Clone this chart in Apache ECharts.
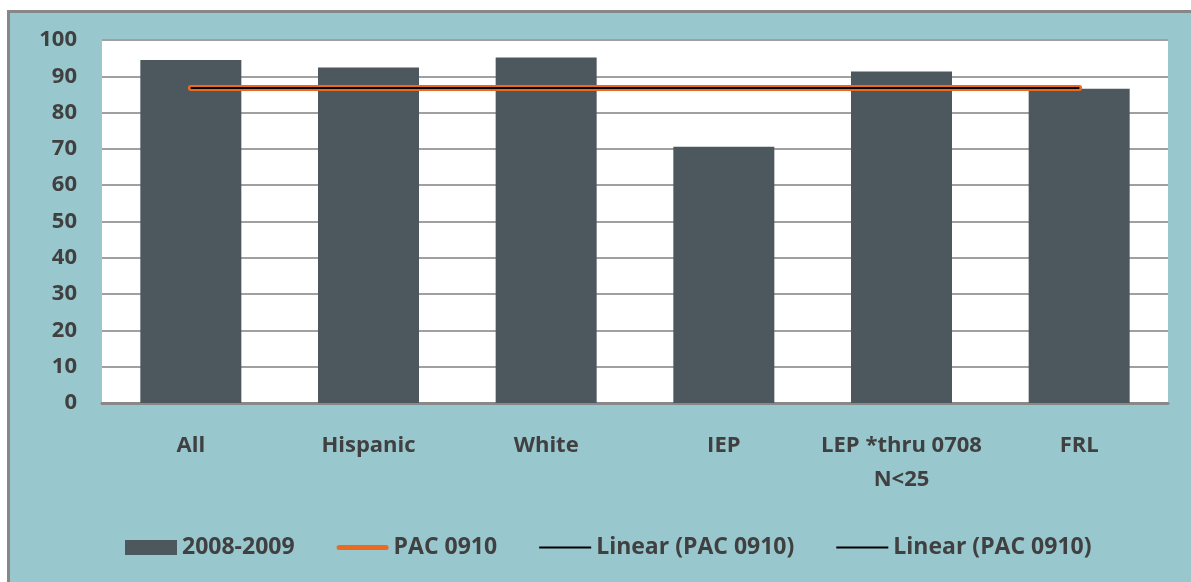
<!DOCTYPE html>
<html>
<head>
<meta charset="utf-8">
<script src="https://cdn.jsdelivr.net/npm/echarts@6/dist/echarts.min.js"></script>
<style>
  html, body { margin: 0; padding: 0; background: #ffffff; width: 1191px; height: 582px; overflow: hidden; }
  #frame {
    position: absolute; left: 7px; top: 10px; right: 0; bottom: 0;
    background: #98C7CE;
    border-top: 3px solid #878787; border-left: 3px solid #878787;
  }
  #chart { position: absolute; left: 0; top: 0; width: 1181px; height: 569px; }
</style>
</head>
<body>
<div id="frame"><div id="chart"></div></div>
<script>
// Categories and values
const categories = ['All', 'Hispanic', 'White', 'IEP', 'LEP *thru 0708\nN<25', 'FRL'];
const scores0809 = [94.5, 92.4, 95.2, 70.6, 91.3, 86.6];
const pac0910 = [86.8, 86.8, 86.8, 86.8, 86.8, 86.8];
const yTicks = [0, 10, 20, 30, 40, 50, 60, 70, 80, 90, 100];

// Least-squares linear trend of the PAC series
function linearTrend(vals) {
  const n = vals.length;
  let sx = 0, sy = 0, sxx = 0, sxy = 0;
  vals.forEach((v, i) => { const x = i + 1; sx += x; sy += v; sxx += x * x; sxy += x * v; });
  const slope = (n * sxy - sx * sy) / (n * sxx - sx * sx);
  const icpt = (sy - slope * sx) / n;
  return vals.map((_, i) => +(icpt + slope * (i + 1)).toFixed(3));
}
const trend = linearTrend(pac0910);

const textColor = '#404040';
const font = '"Open Sans", "DejaVu Sans", sans-serif';
const fs = 22;

// Legend glyphs: a bar swatch and plain line strokes (moveTo corners fix the box to 52x15)
const thickLine = 'path://M0,0M52,15M2.5,5L49.5,5A2.5,2.5,0,0,1,49.5,10L2.5,10A2.5,2.5,0,0,1,2.5,5Z';
const thinLine = 'path://M0,0M52,15M0,6.5L52,6.5L52,8.5L0,8.5Z';

const chart = echarts.init(document.getElementById('chart'));
chart.setOption({
  animation: false,
  textStyle: { fontFamily: font },
  grid: {
    left: 92, top: 27, right: 23, bottom: 179,
    show: true, backgroundColor: '#ffffff', borderWidth: 0
  },
  legend: {
    left: 115, top: 523, padding: 0,
    itemWidth: 52, itemHeight: 15, itemGap: 42,
    textStyle: { color: textColor, fontSize: 23, fontWeight: 'bold', fontFamily: font },
    data: [
      { name: '2008-2009', icon: 'rect' },
      { name: 'PAC 0910', icon: thickLine, itemStyle: { color: '#EC6A1F', borderWidth: 0 } },
      { name: 'Linear (PAC 0910)', icon: thinLine, itemStyle: { color: '#000000', borderWidth: 0 } },
      { name: 'Linear (PAC 0910) ', icon: thinLine, itemStyle: { color: '#000000', borderWidth: 0 } }
    ]
  },
  xAxis: {
    type: 'category',
    data: categories,
    axisLine: { lineStyle: { color: '#888888', width: 3 } },
    axisTick: { show: false },
    axisLabel: {
      color: textColor, fontSize: fs, fontWeight: 'bold', fontFamily: font,
      margin: 26, lineHeight: 34, interval: 0
    }
  },
  yAxis: {
    type: 'value',
    min: 0, max: 100, interval: 10,
    axisLine: { show: false },
    axisTick: { show: false },
    splitLine: { lineStyle: { color: '#A0A0A0', width: 2 } },
    axisLabel: {
      color: textColor, fontSize: fs, fontWeight: 'bold', fontFamily: font, margin: 25,
      formatter: v => yTicks.includes(v) ? String(v) : ''
    }
  },
  series: [
    {
      name: '2008-2009', type: 'bar', data: scores0809,
      barWidth: 101,
      itemStyle: { color: '#4D575E' }
    },
    {
      name: 'PAC 0910', type: 'line', data: pac0910,
      symbol: 'none', z: 3,
      lineStyle: { color: '#EC6A1F', width: 6, cap: 'round' },
      itemStyle: { color: '#EC6A1F' }
    },
    {
      name: 'Linear (PAC 0910)', type: 'line', data: trend,
      symbol: 'none', z: 4,
      lineStyle: { color: '#000000', width: 2 },
      itemStyle: { color: '#000000' }
    },
    {
      name: 'Linear (PAC 0910) ', type: 'line', data: trend,
      symbol: 'none', z: 4,
      lineStyle: { color: '#000000', width: 2 },
      itemStyle: { color: '#000000' }
    }
  ]
});
</script>
</body>
</html>
